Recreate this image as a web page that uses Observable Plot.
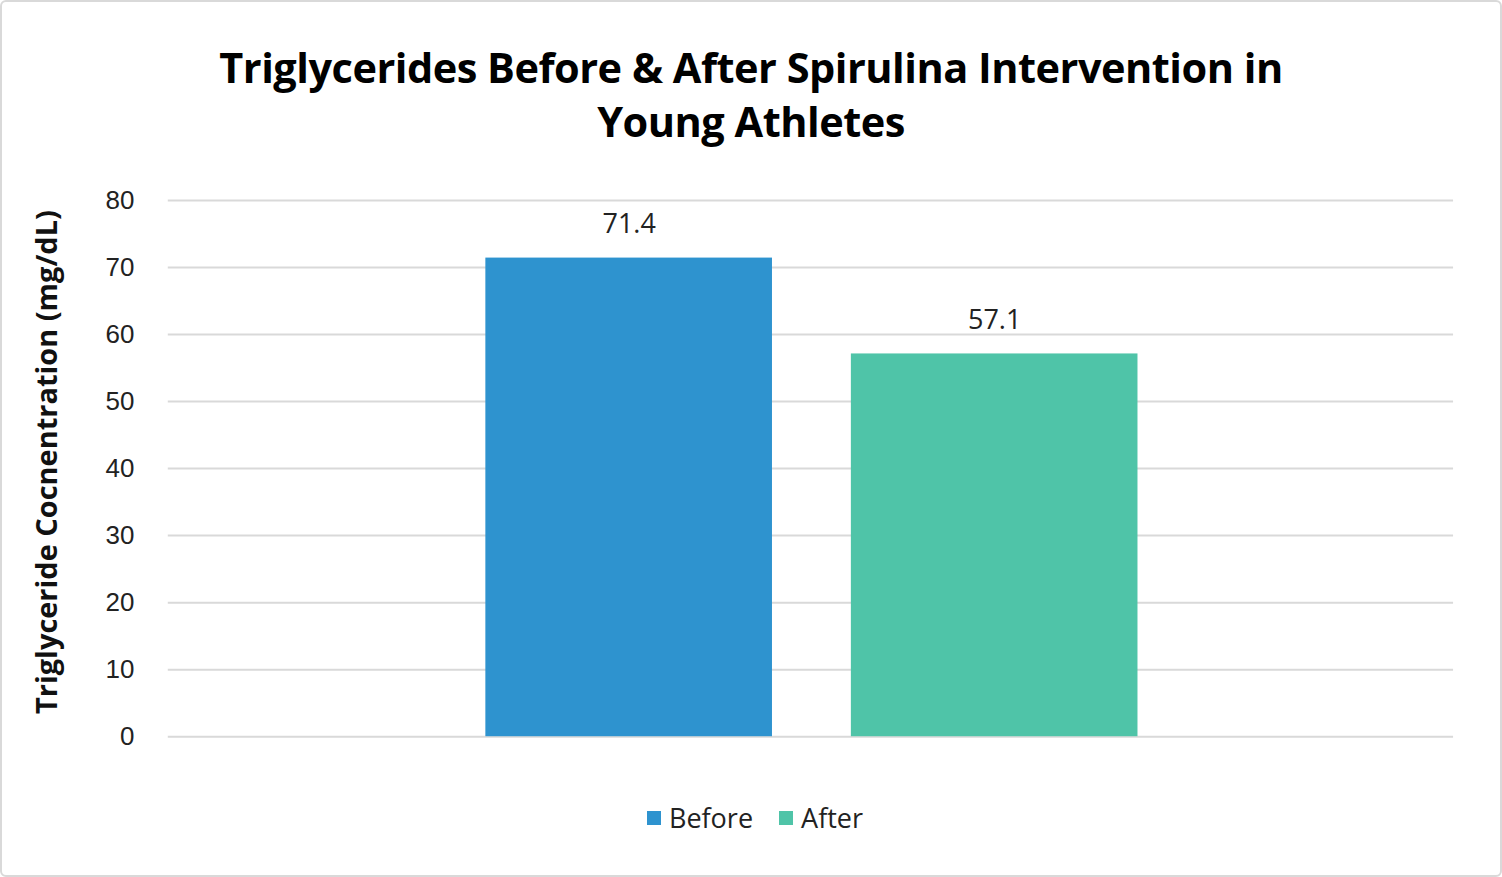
<!DOCTYPE html>
<html>
<head>
<meta charset="utf-8">
<script src="https://cdn.jsdelivr.net/npm/d3@7"></script>
<script src="https://cdn.jsdelivr.net/npm/@observablehq/plot@0.6"></script>
<style>
  html, body { margin: 0; padding: 0; background: #fff; }
  #frame {
    position: relative; width: 1502px; height: 877px; box-sizing: border-box;
    border: 2px solid #d9d9d9; border-radius: 6px; background: #fff; overflow: hidden;
  }
  #title {
    position: absolute; left: 0; top: 38px; width: 1498px; text-align: center;
    font-family: "Open Sans", sans-serif; font-weight: 700; font-size: 41.5px; line-height: 54px;
    color: #000; letter-spacing: -0.5px;
  }
  #chart { position: absolute; left: -2px; top: 148px; }
  #legend {
    position: absolute; left: 4px; top: 797px; width: 1498px; display: flex; justify-content: center;
    font-family: "Open Sans", sans-serif; font-size: 27px; color: #222;
  }
  .item { display: flex; align-items: center; margin: 0 13px; }
  .sw { width: 14px; height: 14px; margin-right: 8px; }
</style>
</head>
<body>
<div id="frame">
  <div id="title">Triglycerides Before &amp; After Spirulina Intervention in<br>Young Athletes</div>
  <div id="chart"></div>
  <div id="legend"></div>
</div>
<script>
const categories = ["Before", "After"];
const values = [71.4, 57.1];
const colors = ["#2E93CF", "#4FC4A8"];
const yTicks = [0, 10, 20, 30, 40, 50, 60, 70, 80];
const yLabel = "Triglyceride Cocnentration (mg/dL)";

const data = categories.map((c, i) => ({category: c, value: values[i]}));

const plot = Plot.plot({
  width: 1502,
  height: 640,
  marginTop: 50,
  marginBottom: 53,
  marginLeft: 168,
  marginRight: 47,
  style: {background: "transparent", fontFamily: "Liberation Sans, Arial, sans-serif", fontSize: "26px", color: "#222"},
  x: {type: "band", domain: categories, range: [446.5, 1178.5], paddingInner: 0.216, paddingOuter: 0.108, axis: null},
  y: {domain: [0, 80]},
  color: {domain: categories, range: colors},
  marks: [
    Plot.gridY(yTicks, {stroke: "#d9d9d9", strokeOpacity: 1, strokeWidth: 2}),
    Plot.axisY(yTicks, {tickSize: 0, tickPadding: 34, label: null, tickFormat: d => d}),
    Plot.text([yLabel], {frameAnchor: "left", rotate: -90, dx: -121, dy: -6.5, lineAnchor: "middle", textAnchor: "middle", fontSize: 29, fontWeight: 700, fontFamily: "Open Sans, sans-serif", fill: "#111"}),
    Plot.barY(data, {x: "category", y: "value", fill: "category"}),
    Plot.text(data, {x: "category", y: "value", text: d => d.value.toFixed(1), dy: -34, lineAnchor: "middle", fontSize: 27, fontFamily: "Open Sans, sans-serif", fill: "#222"})
  ]
});
document.getElementById("chart").appendChild(plot);

const legend = document.getElementById("legend");
categories.forEach((c, i) => {
  const item = document.createElement("div");
  item.className = "item";
  const sw = document.createElement("div");
  sw.className = "sw";
  sw.style.background = colors[i];
  const t = document.createElement("span");
  t.textContent = c;
  item.appendChild(sw); item.appendChild(t);
  legend.appendChild(item);
});
</script>
</body>
</html>
